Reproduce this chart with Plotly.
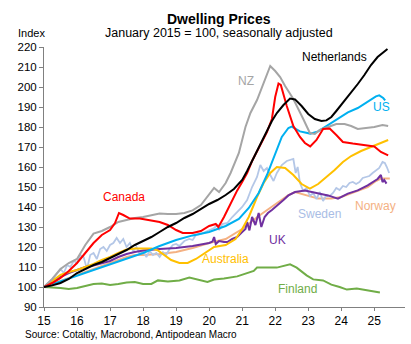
import plotly.graph_objects as go

# Dwelling price indices, January 2015 = 100 (x in years since 2000)
nz_t = [15.0, 15.25, 15.5, 15.75, 16.0, 16.25, 16.5, 16.75, 17.0, 17.25, 17.5, 17.75, 18.0, 18.25, 18.5,
        18.75, 19.0, 19.25, 19.5, 19.75, 20.0, 20.15, 20.3, 20.5, 20.65, 20.9, 21.1, 21.25, 21.45, 21.6,
        21.75, 21.85, 22.0, 22.15, 22.3, 22.55, 22.85, 23.05, 23.2, 23.35, 23.6, 23.85, 24.1, 24.3, 24.5,
        24.75, 25.0, 25.25, 25.42]
nz_v = [100, 104, 109, 112, 114, 121, 126.7, 128, 130, 132.5, 133.5, 134.5, 135, 136, 136.7,
        136.5, 136.5, 137, 138.3, 141, 146, 149.5, 147.5, 152, 157, 167, 180, 187, 193.5, 200,
        206, 210.5, 208, 205, 200.5, 194, 184, 177, 176.5, 178.5, 180, 181.5, 181.5, 180.5, 179,
        179.5, 180, 181, 180.5]

nl_t = [15.0, 15.25, 15.5, 15.75, 16.0, 16.25, 16.5, 16.75, 17.0, 17.25, 17.5, 17.75, 18.0, 18.25, 18.5,
        18.75, 19.0, 19.25, 19.5, 19.75, 20.0, 20.25, 20.5, 20.75, 21.0, 21.15, 21.3, 21.45, 21.6, 21.75,
        21.9, 22.05, 22.25, 22.45, 22.6, 22.8, 23.0, 23.2, 23.4, 23.55, 23.7, 23.85, 24.0, 24.15, 24.3,
        24.5, 24.7, 24.9, 25.1, 25.3, 25.4]
nl_v = [100, 100.8, 102, 104, 107, 109, 111, 112.5, 114.5, 116.5, 118.5, 121, 123, 125, 127.5,
        130, 132, 134.5, 136.5, 139, 141.5, 143.5, 146, 149, 153.5, 158, 163, 167.5, 173, 178,
        183, 187, 191, 194.2, 193.8, 190.5, 186.5, 184, 183, 183.3, 185, 188, 191, 194.5, 197.5,
        201.5, 206, 211, 215, 217.5, 219]

ca_t = [15.0, 15.25, 15.5, 15.75, 16.0, 16.25, 16.5, 16.75, 17.0, 17.15, 17.27, 17.4, 17.6, 17.9, 18.2,
        18.5, 18.75, 19.0, 19.2, 19.5, 19.75, 20.0, 20.2, 20.28, 20.45, 20.65, 20.85, 21.0, 21.15, 21.3,
        21.45, 21.6, 21.75, 21.9, 22.0, 22.1, 22.17, 22.35, 22.55, 22.75, 22.9, 23.06, 23.25, 23.45, 23.65,
        23.85, 24.05, 24.35, 24.75, 25.0, 25.2, 25.42]
ca_v = [100, 102, 104.5, 108, 112, 117, 122, 126, 128.5, 132, 137, 136, 134.2, 134.2, 133.3,
        132.5, 131, 128.5, 127, 127, 128, 130.5, 131.5, 130, 135, 142, 148.3, 152.5, 157, 163,
        168, 173, 177.5, 184, 195, 201.7, 201, 190.5, 180.5, 175, 172, 170.3, 173.5, 179, 179.2,
        176, 172.5, 171.7, 170.8, 170.3, 167.5, 165.8]

us_t = [15.0, 15.5, 16.0, 16.5, 17.0, 17.5, 18.0, 18.5, 19.0, 19.5, 20.0, 20.5, 20.9, 21.2, 21.5,
        21.75, 22.0, 22.2, 22.4, 22.5, 22.75, 23.06, 23.3, 23.6, 23.9, 24.2, 24.5, 24.8, 25.05, 25.15,
        25.27, 25.33]
us_v = [100, 102.8, 105.5, 108.5, 111.3, 114, 117, 120.5, 123.5, 125.8, 127.5, 130.5, 134, 139.5, 147,
        156, 167, 175, 179.5, 180.2, 177.8, 176.7, 177.8, 181, 184.5, 187.3, 189.5, 192.5, 195.3, 195.8,
        194.5, 193.3]

au_t = [15.0, 15.25, 15.5, 15.75, 16.0, 16.25, 16.5, 16.75, 17.0, 17.25, 17.5, 17.75, 18.0, 18.25, 18.45,
        18.65, 18.85, 19.1, 19.35, 19.6, 19.9, 20.15, 20.5, 20.8, 21.0, 21.2, 21.45, 21.65, 21.85, 22.05,
        22.3, 22.55, 22.8, 23.05, 23.3, 23.55, 23.8, 24.05, 24.3, 24.6, 24.9, 25.15, 25.42]
au_v = [100, 103, 106, 107.5, 108.5, 110, 111.5, 113.5, 115, 117, 118.8, 119.3, 119.3, 119.2, 118.3,
        116, 113.5, 112, 112, 114, 117.5, 120, 121, 124, 129, 135, 145, 152, 157, 160,
        159.5, 156, 151.5, 149.2, 151.5, 155, 158.5, 162.5, 165.5, 168, 170, 171.5, 173.5]

se_t = [15.0, 15.1, 15.25, 15.4, 15.5, 15.6, 15.7, 15.8, 15.9, 16.0, 16.1, 16.2, 16.3, 16.4, 16.5,
        16.6, 16.7, 16.8, 16.9, 17.0, 17.1, 17.2, 17.3, 17.4, 17.5, 17.6, 17.7, 17.8, 17.9, 18.0,
        18.1, 18.2, 18.3, 18.4, 18.5, 18.6, 18.7, 18.8, 18.9, 19.0, 19.1, 19.25, 19.4, 19.5, 19.6,
        19.75, 19.9, 20.0, 20.15, 20.25, 20.3, 20.4, 20.55, 20.7, 20.85, 21.0, 21.15, 21.3, 21.45, 21.55,
        21.65, 21.75, 21.85, 21.95, 22.05, 22.2, 22.35, 22.45, 22.55, 22.62, 22.68, 22.75, 22.85, 22.95, 23.05,
        23.15, 23.25, 23.35, 23.45, 23.55, 23.65, 23.75, 23.85, 23.95, 24.05, 24.15, 24.25, 24.35, 24.45, 24.55,
        24.65, 24.75, 24.85, 24.95, 25.05, 25.15, 25.25, 25.32, 25.38, 25.45]
se_v = [100, 101.5, 104, 107, 109, 107, 111, 110, 113, 112, 116, 115, 109, 116, 117,
        114, 119, 120, 118, 121, 122, 124.5, 122, 124, 120, 122, 118, 120, 116.5, 118,
        115, 118, 116, 117, 115, 117.5, 116, 119, 121, 121.5, 120.5, 123, 124, 123.5, 126,
        126.5, 127.5, 128.3, 129.5, 131, 128.5, 131.5, 132, 135, 137.5, 140, 143.5, 150, 155, 161,
        158, 159.5, 156, 153, 157, 161, 163, 163.5, 164, 157, 160, 152, 148, 149.5, 145.5,
        147, 144, 147.5, 143, 146, 145.5, 147, 149.5, 148.5, 150.5, 150, 152, 152.5, 151.5, 152.5,
        154.5, 155, 155.5, 157, 158.5, 159.5, 162.5, 162, 160, 157]

no_t = [15.0, 15.5, 16.0, 16.5, 17.0, 17.5, 17.75, 18.0, 18.5, 19.0, 19.5, 20.0, 20.5, 21.0, 21.5,
        22.0, 22.4, 22.6, 22.9, 23.3, 23.7, 24.0, 24.4, 24.8, 25.05, 25.2, 25.47]
no_v = [100, 103, 106, 109, 112, 115, 116, 116, 116.5, 117.5, 119.5, 122, 124, 129, 135.5,
        141.5, 146, 147.5, 146, 144.2, 144.2, 145, 147.5, 150, 153, 154.2, 154.2]

uk_t = [15.0, 15.25, 15.5, 15.75, 16.0, 16.25, 16.5, 16.75, 17.0, 17.25, 17.5, 17.75, 18.0, 18.5, 19.0,
        19.5, 20.0, 20.1, 20.15, 20.2, 20.3, 20.45, 20.55, 20.7, 20.85, 21.0, 21.1, 21.15, 21.22, 21.3,
        21.4, 21.5, 21.58, 21.68, 21.78, 21.9, 22.05, 22.25, 22.4, 22.6, 22.9, 23.3, 23.6, 23.9, 24.2,
        24.5, 24.8, 25.1, 25.2, 25.25, 25.3, 25.37]
uk_v = [100, 102.5, 105, 107, 108.7, 110, 110.7, 111.8, 113, 115, 116.5, 117.5, 118.2, 119, 119.5,
        120.5, 122, 122.7, 125, 121.5, 123, 122.5, 122.5, 124, 125, 127.5, 129, 132.5, 128.3, 135,
        131, 137, 130, 135, 137, 138.5, 140.5, 143.5, 145.8, 147.5, 148.3, 146.7, 145.8, 144.2, 146.7,
        148.3, 150.8, 154, 156, 152.5, 153.5, 151.7]

fi_t = [15.0, 15.25, 15.5, 15.75, 16.0, 16.25, 16.5, 16.75, 17.0, 17.25, 17.5, 17.75, 18.0, 18.25, 18.45,
        18.75, 19.1, 19.4, 19.7, 19.95, 20.15, 20.45, 20.85, 21.15, 21.35, 21.45, 21.75, 22.05, 22.45, 22.65,
        22.95, 23.15, 23.45, 23.7, 23.95, 24.17, 24.47, 24.77, 25.0, 25.17]
fi_v = [100, 99.8, 99.5, 99, 99.5, 100.5, 101.5, 101.8, 101, 101.5, 102.3, 102.5, 101.5, 101.5, 103.3,
        102.8, 103.3, 104.7, 103.7, 102.5, 103.7, 104.2, 105.3, 106.7, 108, 109.7, 109.7, 109.7, 111.3, 109.7,
        105.8, 103.8, 103.3, 101.2, 100, 98.7, 99.3, 98.3, 97.5, 97.2]

x_ticks = [15, 16, 17, 18, 19, 20, 21, 22, 23, 24, 25]
y_ticks = [90, 100, 110, 120, 130, 140, 150, 160, 170, 180, 190, 200, 210, 220]

# name, x, y, line colour, label colour, label position (x, y), width
series = [
    ("Finland", fi_t, fi_v, "#70AD47", "#70AD47", (22.66, 98.85), 2),
    ("Norway", no_t, no_v, "#F4B183", "#F4B183", (25.05, 140.35), 2),
    ("Sweden", se_t, se_v, "#B4C7E7", "#A9BDE5", (23.33, 136.35), 1.8),
    ("UK", uk_t, uk_v, "#7030A0", "#7030A0", (22.06, 123.35), 2),
    ("Australia", au_t, au_v, "#FFC000", "#FFC000", (20.48, 113.85), 2),
    ("US", us_t, us_v, "#00B0F0", "#00B0F0", (25.23, 189.85), 2),
    ("NZ", nz_t, nz_v, "#A5A5A5", "#A5A5A5", (21.12, 202.85), 2),
    ("Canada", ca_t, ca_v, "#FF0000", "#FF0000", (17.43, 144.85), 2),
    ("Netherlands", nl_t, nl_v, "#000000", "#000000", (23.81, 214.85), 2),
]

FONT = "Liberation Sans, Arial, sans-serif"

fig = go.Figure()
annotations = []
for name, xs, ys, col, lcol, (lx, ly), w in series:
    fig.add_trace(go.Scatter(x=xs, y=ys, mode="lines", name=name,
                             line=dict(color=col, width=w), hoverinfo="skip"))
    annotations.append(dict(x=lx, y=ly, xref="x", yref="y", text=name, showarrow=False,
                            font=dict(family=FONT, size=12, color=lcol),
                            xanchor="center", yanchor="middle"))

annotations += [
    dict(x=0.486, y=1.108, xref="paper", yref="paper", text="<b>Dwelling Prices</b>",
         showarrow=False, font=dict(family=FONT, size=14, color="#000000"),
         xanchor="center", yanchor="middle", borderpad=0),
    dict(x=0.486, y=1.052, xref="paper", yref="paper", text="January 2015 = 100, seasonally adjusted",
         showarrow=False, font=dict(family=FONT, size=12.5, color="#000000"),
         xanchor="center", yanchor="middle", borderpad=0),
    dict(x=-0.036, y=1.054, xref="paper", yref="paper", text="Index",
         showarrow=False, font=dict(family=FONT, size=11, color="#000000"),
         xanchor="center", yanchor="middle"),
    dict(x=-0.058, y=-0.104, xref="paper", yref="paper",
         text="Source: Cotaltiy, Macrobond, Antipodean Macro",
         showarrow=False, font=dict(family=FONT, size=10, color="#000000"),
         xanchor="left", yanchor="middle"),
]

fig.update_layout(
    width=411, height=344,
    margin=dict(l=44, r=6, t=47, b=37),
    paper_bgcolor="white", plot_bgcolor="white",
    showlegend=False,
    annotations=annotations,
    font=dict(family=FONT, color="#000000"),
    xaxis=dict(range=[15, 25.93], tickvals=x_ticks, ticktext=[str(v) for v in x_ticks],
               showgrid=False, zeroline=False, showline=True, linecolor="#808080", linewidth=1,
               ticks="outside", ticklen=3, tickcolor="#808080", tickfont=dict(size=12, family=FONT)),
    yaxis=dict(range=[90, 220], tickvals=y_ticks, showgrid=False, zeroline=False,
               showline=True, linecolor="#808080", linewidth=1,
               ticks="outside", ticklen=4, tickcolor="#808080", tickfont=dict(size=11.5, family=FONT)),
)

fig.write_html("out.html")
